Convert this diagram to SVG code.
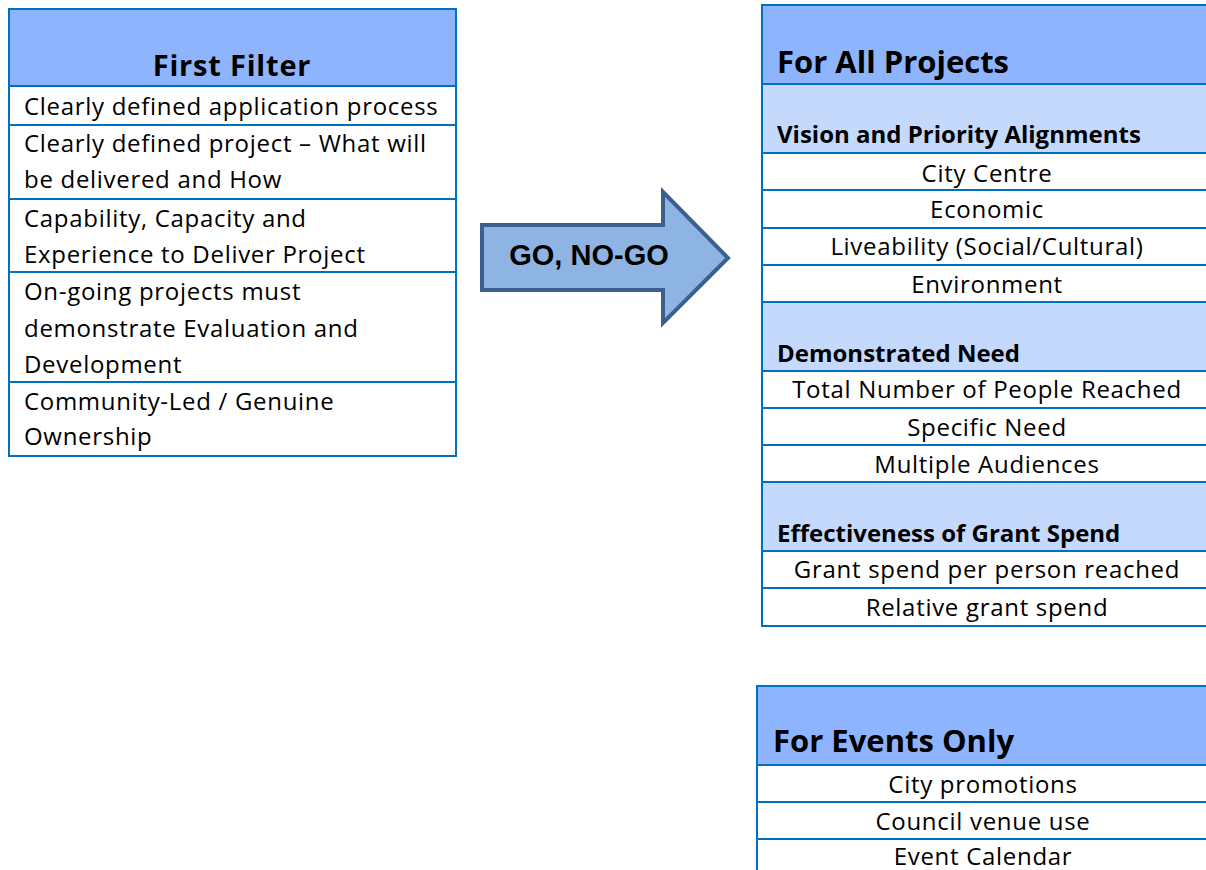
<svg xmlns="http://www.w3.org/2000/svg" width="1206" height="870" viewBox="0 0 1206 870">
<style>
.hdr{fill:#8eb4fe}
.sub{fill:#c5d9fd}
.cell{fill:#ffffff}
.ln{stroke:#0070c0;stroke-width:2;fill:none}
.t{font-family:"Open Sans","Noto Sans",sans-serif;font-size:24px;letter-spacing:0.7px;fill:#000}
.c{text-anchor:middle}
.h0{font-family:"Open Sans","Noto Sans",sans-serif;font-size:29px;letter-spacing:0.8px;font-weight:bold;fill:#000}
.h1{font-family:"Open Sans","Noto Sans",sans-serif;font-size:31px;font-weight:bold;fill:#000}
.h2{font-family:"Open Sans","Noto Sans",sans-serif;font-size:24px;font-weight:bold;fill:#000}
.arrowtxt{font-family:"Liberation Sans",Arial,sans-serif;font-size:29px;font-weight:bold;fill:#000}
</style>
<rect x="0" y="0" width="1206" height="870" fill="#ffffff"/>

<g id="first-filter">
<rect x="9" y="9" width="447" height="77" class="hdr"/>
<rect x="9" y="86" width="447" height="370" class="cell"/>
<rect x="9" y="9" width="447" height="447" class="ln"/>
<line x1="9" y1="86" x2="456" y2="86" class="ln"/>
<line x1="9" y1="125" x2="456" y2="125" class="ln"/>
<line x1="9" y1="199" x2="456" y2="199" class="ln"/>
<line x1="9" y1="272" x2="456" y2="272" class="ln"/>
<line x1="9" y1="382" x2="456" y2="382" class="ln"/>
<text x="232" y="76" class="h0 c">First Filter</text>
<text x="24" y="115" class="t">Clearly defined application process</text>
<text x="24" y="152" class="t">Clearly defined project – What will</text>
<text x="24" y="188" class="t">be delivered and How</text>
<text x="24" y="227" class="t">Capability, Capacity and</text>
<text x="24" y="263" class="t">Experience to Deliver Project</text>
<text x="24" y="300" class="t">On-going projects must</text>
<text x="24" y="337" class="t">demonstrate Evaluation and</text>
<text x="24" y="373" class="t">Development</text>
<text x="24" y="410" class="t">Community-Led / Genuine</text>
<text x="24" y="445" class="t">Ownership</text>
</g>

<g id="connectors">
<g id="go-no-go">
<polygon points="482,225 663,225 663,192 728,258 663,323 663,290 482,290" fill="#8eb4e3" stroke="#3c5f8e" stroke-width="4" stroke-linejoin="miter"/>
<text x="589" y="265" class="arrowtxt c">GO, NO-GO</text>
</g>
</g>

<g id="all-projects">
<rect x="762" y="5" width="460" height="79" class="hdr"/>
<rect x="762" y="84" width="460" height="69" class="sub"/>
<rect x="762" y="153" width="460" height="149" class="cell"/>
<rect x="762" y="302" width="460" height="69" class="sub"/>
<rect x="762" y="371" width="460" height="111" class="cell"/>
<rect x="762" y="482" width="460" height="69" class="sub"/>
<rect x="762" y="551" width="460" height="75" class="cell"/>
<rect x="762" y="5" width="460" height="621" class="ln"/>
<line x1="762" y1="84" x2="1222" y2="84" class="ln"/>
<line x1="762" y1="153" x2="1222" y2="153" class="ln"/>
<line x1="762" y1="190" x2="1222" y2="190" class="ln"/>
<line x1="762" y1="228" x2="1222" y2="228" class="ln"/>
<line x1="762" y1="265" x2="1222" y2="265" class="ln"/>
<line x1="762" y1="302" x2="1222" y2="302" class="ln"/>
<line x1="762" y1="371" x2="1222" y2="371" class="ln"/>
<line x1="762" y1="408" x2="1222" y2="408" class="ln"/>
<line x1="762" y1="445" x2="1222" y2="445" class="ln"/>
<line x1="762" y1="482" x2="1222" y2="482" class="ln"/>
<line x1="762" y1="551" x2="1222" y2="551" class="ln"/>
<line x1="762" y1="588" x2="1222" y2="588" class="ln"/>
<text x="777" y="73" class="h1">For All Projects</text>
<text x="777" y="143" class="h2">Vision and Priority Alignments</text>
<text x="987" y="182" class="t c">City Centre</text>
<text x="987" y="218" class="t c">Economic</text>
<text x="987" y="255" class="t c">Liveability (Social/Cultural)</text>
<text x="987" y="293" class="t c">Environment</text>
<text x="777" y="362" class="h2">Demonstrated Need</text>
<text x="987" y="398" class="t c">Total Number of People Reached</text>
<text x="987" y="436" class="t c">Specific Need</text>
<text x="987" y="473" class="t c">Multiple Audiences</text>
<text x="777" y="542" class="h2">Effectiveness of Grant Spend</text>
<text x="987" y="578" class="t c">Grant spend per person reached</text>
<text x="987" y="616" class="t c">Relative grant spend</text>
</g>

<g id="events-only">
<rect x="757" y="686" width="465" height="79" class="hdr"/>
<rect x="757" y="765" width="465" height="120" class="cell"/>
<rect x="757" y="686" width="465" height="200" class="ln"/>
<line x1="757" y1="765" x2="1222" y2="765" class="ln"/>
<line x1="757" y1="802" x2="1222" y2="802" class="ln"/>
<line x1="757" y1="839" x2="1222" y2="839" class="ln"/>
<text x="773" y="752" class="h1">For Events Only</text>
<text x="983" y="793" class="t c">City promotions</text>
<text x="983" y="830" class="t c">Council venue use</text>
<text x="983" y="865" class="t c">Event Calendar</text>
</g>
</svg>
